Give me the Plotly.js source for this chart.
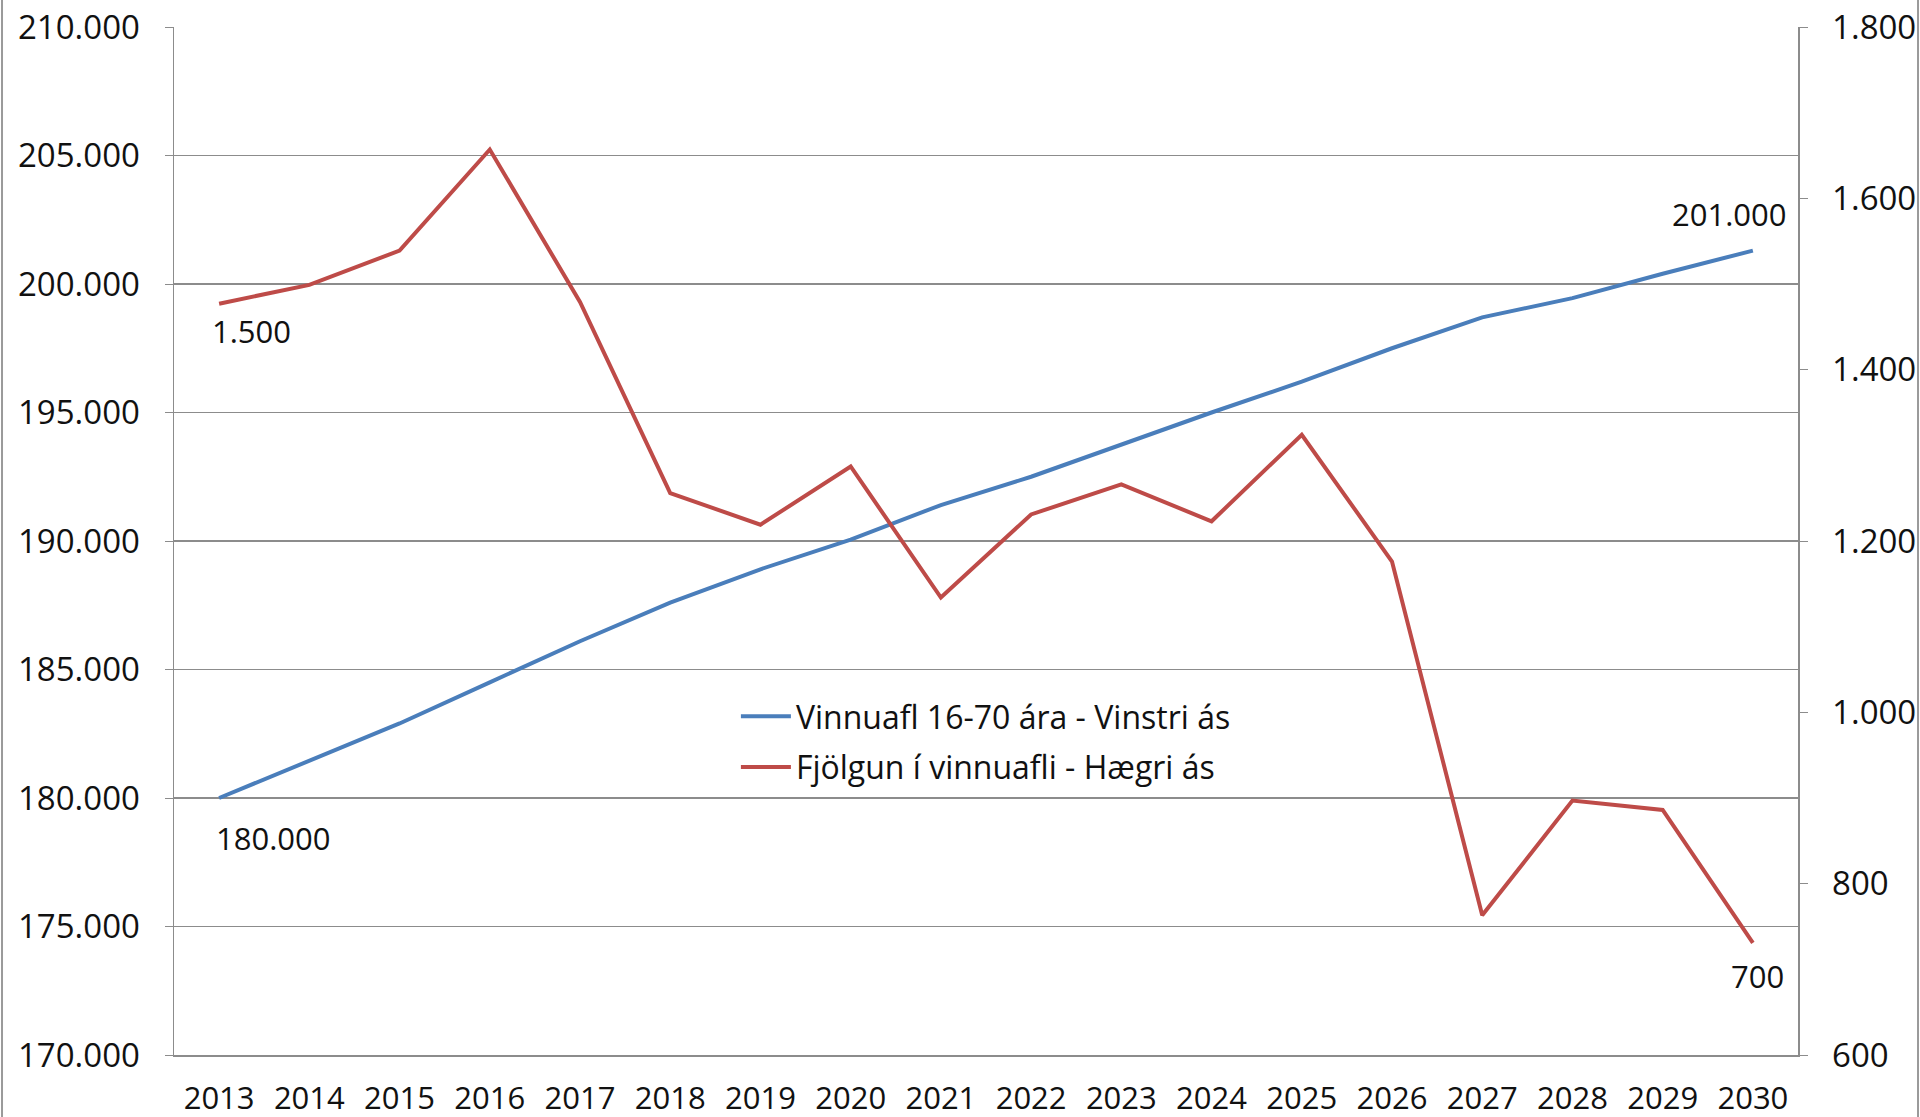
<!DOCTYPE html>
<html>
<head>
<meta charset="utf-8">
<script src="https://cdn.plot.ly/plotly-3.0.1.min.js"></script>
<style>html,body{margin:0;padding:0;background:#fff;}#chart{width:1920px;height:1117px;}</style>
</head>
<body>
<div id="chart"></div>
<script>
const years = ['2013','2014','2015','2016','2017','2018','2019','2020','2021','2022','2023','2024','2025','2026','2027','2028','2029','2030'];
const vinnuafl = [180000,181450,182900,184500,186100,187600,188900,190050,191400,192500,193750,195000,196200,197500,198700,199450,200400,201300];
const fjolgun = [1477,1499,1539,1657,1479,1256,1219,1287,1134,1231,1266,1223,1324,1176,763,897,886,731];
const seriesNames = ['Vinnuafl 16-70 ára - Vinstri ás','Fjölgun í vinnuafli - Hægri ás'];
const leftTicks = [170000,175000,180000,185000,190000,195000,200000,205000,210000];
const rightTicks = [600,800,1000,1200,1400,1600,1800];
// data labels
const labelBlue = [{i:0, text:'180.000'},{i:17, text:'201.000'}];
const labelRed = [{i:0, text:'1.500'},{i:17, text:'700'}];

const font = 'Open Sans, Liberation Sans, sans-serif';
const gridCol = '#8c8c8c';

const traces = [
  {x: years, y: vinnuafl, name: seriesNames[0], legendgroup:'a', type:'scatter', mode:'lines', line:{color:'#4a7ebb', width:4}, yaxis:'y'},
  {x: years, y: fjolgun, name: seriesNames[1], legendgroup:'b', type:'scatter', mode:'lines', line:{color:'#be4b48', width:4}, yaxis:'y2'}
];

const annotations = [];
const blueShift = [{dx:54, dy:-40},{dx:-23, dy:37}];
labelBlue.forEach(function(l,k){
  annotations.push({x: l.i, y: vinnuafl[l.i], xref:'x', yref:'y', text:l.text, showarrow:false, xshift:blueShift[k].dx, yshift:blueShift[k].dy, font:{family:font, size:31, color:'#111'}});
});
const redShift = [{dx:32, dy:-27},{dx:5, dy:-33}];
labelRed.forEach(function(l,k){
  annotations.push({x: l.i, y: fjolgun[l.i], xref:'x', yref:'y2', text:l.text, showarrow:false, xshift:redShift[k].dx, yshift:redShift[k].dy, font:{family:font, size:31, color:'#111'}});
});

const layout = {
  width:1920, height:1117,
  margin:{l:174, r:122, t:27, b:62},
  paper_bgcolor:'#fff', plot_bgcolor:'#fff',
  separators:',.',
  font:{family:font, size:31, color:'#111'},
  showlegend:true,
  legend:{x:0.346, y:0.356, xanchor:'left', yanchor:'top', bgcolor:'rgba(0,0,0,0)', font:{family:font, size:32, color:'#111'}, itemwidth:50, tracegroupgap:6},
  xaxis:{type:'category', showgrid:false, showline:true, linecolor:gridCol, linewidth:2, ticks:'', ticklabelstandoff:15, tickfont:{family:font, size:31}, range:[-0.5,17.5]},
  yaxis:{range:[170000,210000], tickvals:leftTicks, tickformat:',d', showgrid:true, gridcolor:gridCol, gridwidth:1.5, zeroline:false, showline:true, linecolor:gridCol, linewidth:1.5, ticks:'outside', ticklen:8, tickcolor:gridCol, ticklabelstandoff:18, tickfont:{family:font, size:33}},
  yaxis2:{range:[600,1800], tickvals:rightTicks, tickformat:',d', overlaying:'y', side:'right', showgrid:false, zeroline:false, showline:true, linecolor:gridCol, linewidth:1.5, ticks:'outside', ticklen:8, tickcolor:gridCol, ticklabelstandoff:18, tickfont:{family:font, size:33}},
  annotations: annotations,
  shapes:[
    {type:'line', xref:'paper', yref:'paper', x0:-0.1059, x1:-0.1059, y0:-0.07, y1:1.04, line:{color:'#9a9a9a', width:2}},
    {type:'line', xref:'paper', yref:'paper', x0:1.0739, x1:1.0739, y0:-0.07, y1:1.04, line:{color:'#9a9a9a', width:2}}
  ]
};

Plotly.newPlot('chart', traces, layout, {displayModeBar:false, staticPlot:true});
</script>
</body>
</html>
